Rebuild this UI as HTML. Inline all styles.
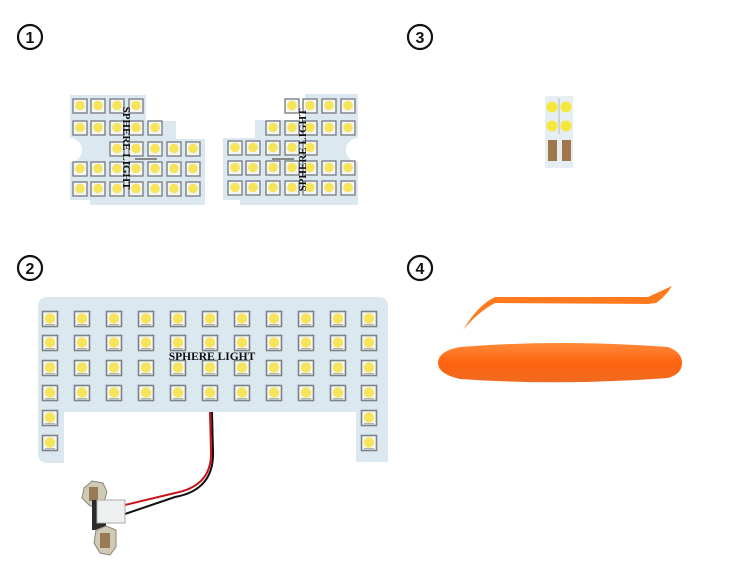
<!DOCTYPE html>
<html><head><meta charset="utf-8"><style>
html,body{margin:0;padding:0;background:#fff;width:730px;height:583px;overflow:hidden}
svg{display:block}
text{font-family:"Liberation Serif",serif}
text.num{font-family:"Liberation Sans",sans-serif}
</style></head><body>
<svg width="730" height="583" viewBox="0 0 730 583" xmlns="http://www.w3.org/2000/svg">
<defs>
<g id="led">
<rect x="-7.5" y="-7.5" width="15" height="15" fill="#f4f6f6" stroke="#7d8285" stroke-width="1.6"/>
<circle cx="0" cy="-0.5" r="5.2" fill="#f6e55a"/>
<rect x="-5" y="5" width="10" height="1.2" fill="#b0b4b6"/>
</g>
<g id="ledS">
<rect x="-7" y="-7" width="14" height="14" fill="#f4f6f6" stroke="#7d8285" stroke-width="1.4"/>
<circle cx="0" cy="-0.5" r="4.8" fill="#f6e55a"/>
</g>
<linearGradient id="org" x1="0" y1="0" x2="0" y2="1">
<stop offset="0" stop-color="#ff8a3a"/><stop offset="0.5" stop-color="#ff6410"/><stop offset="1" stop-color="#f06a20"/>
</linearGradient>
</defs>

<g fill="none" stroke="#111" stroke-width="2.2">
<circle cx="30" cy="37" r="12"/><circle cx="420" cy="37" r="12"/>
<circle cx="30" cy="268" r="12"/><circle cx="420" cy="268" r="12"/>
</g>
<g font-size="16" font-weight="bold" text-anchor="middle" fill="#111">
<text class="num" x="30" y="43" style="font-family:'Liberation Sans',sans-serif">1</text>
<text class="num" x="420" y="43" style="font-family:'Liberation Sans',sans-serif">3</text>
<text class="num" x="30" y="274" style="font-family:'Liberation Sans',sans-serif">2</text>
<text class="num" x="420" y="274" style="font-family:'Liberation Sans',sans-serif">4</text>
</g>

<path d="M70,95 L146,95 L146,121 L176,121 L176,139 L205,139 L205,205 L90,205 L90,200 L70,200 L70,162 A11,11 0 0 0 70,138 Z" fill="#dce8f0"/>
<g>
<use href="#ledS" x="80" y="106"/><use href="#ledS" x="98" y="106"/><use href="#ledS" x="117" y="106"/><use href="#ledS" x="136" y="106"/>
<use href="#ledS" x="80" y="128"/><use href="#ledS" x="98" y="128"/><use href="#ledS" x="117" y="128"/><use href="#ledS" x="136" y="128"/><use href="#ledS" x="155" y="128"/>
<use href="#ledS" x="117" y="149"/><use href="#ledS" x="136" y="149"/><use href="#ledS" x="155" y="149"/><use href="#ledS" x="174" y="149"/><use href="#ledS" x="193" y="149"/>
<use href="#ledS" x="80" y="169"/><use href="#ledS" x="98" y="169"/><use href="#ledS" x="117" y="169"/><use href="#ledS" x="136" y="169"/><use href="#ledS" x="155" y="169"/><use href="#ledS" x="174" y="169"/><use href="#ledS" x="193" y="169"/>
<use href="#ledS" x="80" y="189"/><use href="#ledS" x="98" y="189"/><use href="#ledS" x="117" y="189"/><use href="#ledS" x="136" y="189"/><use href="#ledS" x="155" y="189"/><use href="#ledS" x="174" y="189"/><use href="#ledS" x="193" y="189"/>
</g>
<rect x="135" y="158" width="22" height="2" fill="#888"/>
<text x="0" y="0" font-size="11" font-weight="bold" fill="#111" text-anchor="middle" transform="translate(123,148) rotate(90)">SPHERE LIGHT</text>

<path d="M305,94 L358,94 L358,138 A11,11 0 0 0 358,162 L358,205 L240,205 L240,200 L223,200 L223,138 L255,138 L255,120 L305,120 Z" fill="#dce8f0"/>
<g>
<use href="#ledS" x="292" y="106"/><use href="#ledS" x="310" y="106"/><use href="#ledS" x="329" y="106"/><use href="#ledS" x="348" y="106"/>
<use href="#ledS" x="273" y="128"/><use href="#ledS" x="292" y="128"/><use href="#ledS" x="310" y="128"/><use href="#ledS" x="329" y="128"/><use href="#ledS" x="348" y="128"/>
<use href="#ledS" x="235" y="148"/><use href="#ledS" x="253" y="148"/><use href="#ledS" x="273" y="148"/><use href="#ledS" x="292" y="148"/><use href="#ledS" x="310" y="148"/>
<use href="#ledS" x="235" y="168"/><use href="#ledS" x="253" y="168"/><use href="#ledS" x="273" y="168"/><use href="#ledS" x="292" y="168"/><use href="#ledS" x="310" y="168"/><use href="#ledS" x="329" y="168"/><use href="#ledS" x="348" y="168"/>
<use href="#ledS" x="235" y="188"/><use href="#ledS" x="253" y="188"/><use href="#ledS" x="273" y="188"/><use href="#ledS" x="292" y="188"/><use href="#ledS" x="310" y="188"/><use href="#ledS" x="329" y="188"/><use href="#ledS" x="348" y="188"/>
</g>
<rect x="272" y="158" width="22" height="2" fill="#888"/>
<text x="0" y="0" font-size="11" font-weight="bold" fill="#111" text-anchor="middle" transform="translate(306,150) rotate(-90)">SPHERE LIGHT</text>

<rect x="545" y="96" width="28" height="72" fill="#e6eef4"/>
<line x1="559" y1="98" x2="559" y2="134" stroke="#999" stroke-width="0.6"/>
<circle cx="552" cy="107" r="5.5" fill="#f6e83a"/><circle cx="566" cy="107" r="5.5" fill="#f6e83a"/>
<circle cx="552" cy="126" r="5.5" fill="#f6e83a"/><circle cx="566" cy="126" r="5.5" fill="#f6e83a"/>
<rect x="548" y="140" width="9" height="21" fill="#a0764c"/><rect x="562" y="140" width="9" height="21" fill="#a0764c"/>

<path d="M48,297 L378,297 Q388,297 388,307 L388,462 L356,462 L356,412 L64,412 L64,463 L48,463 Q38,463 38,453 L38,307 Q38,297 48,297 Z" fill="#dce8f0"/>
<g>
<use href="#led" x="50" y="319"/><use href="#led" x="82" y="319"/><use href="#led" x="114" y="319"/><use href="#led" x="146" y="319"/><use href="#led" x="178" y="319"/><use href="#led" x="210" y="319"/><use href="#led" x="242" y="319"/><use href="#led" x="274" y="319"/><use href="#led" x="306" y="319"/><use href="#led" x="338" y="319"/><use href="#led" x="369" y="319"/>
<use href="#led" x="50" y="343"/><use href="#led" x="82" y="343"/><use href="#led" x="114" y="343"/><use href="#led" x="146" y="343"/><use href="#led" x="178" y="343"/><use href="#led" x="210" y="343"/><use href="#led" x="242" y="343"/><use href="#led" x="274" y="343"/><use href="#led" x="306" y="343"/><use href="#led" x="338" y="343"/><use href="#led" x="369" y="343"/>
<use href="#led" x="50" y="368"/><use href="#led" x="82" y="368"/><use href="#led" x="114" y="368"/><use href="#led" x="146" y="368"/><use href="#led" x="178" y="368"/><use href="#led" x="210" y="368"/><use href="#led" x="242" y="368"/><use href="#led" x="274" y="368"/><use href="#led" x="306" y="368"/><use href="#led" x="338" y="368"/><use href="#led" x="369" y="368"/>
<use href="#led" x="50" y="393"/><use href="#led" x="82" y="393"/><use href="#led" x="114" y="393"/><use href="#led" x="146" y="393"/><use href="#led" x="178" y="393"/><use href="#led" x="210" y="393"/><use href="#led" x="242" y="393"/><use href="#led" x="274" y="393"/><use href="#led" x="306" y="393"/><use href="#led" x="338" y="393"/><use href="#led" x="369" y="393"/>
<use href="#led" x="50" y="418"/><use href="#led" x="369" y="418"/>
<use href="#led" x="50" y="443"/><use href="#led" x="369" y="443"/>
</g>
<text x="212" y="360" font-size="11.5" font-weight="bold" fill="#111" text-anchor="middle">SPHERE LIGHT</text>

<path d="M210,412 L211,452 Q212,486 175,493 L125,505" fill="none" stroke="#c8141a" stroke-width="2"/>
<path d="M212,412 L213,452 Q214,490 175,497 L125,514" fill="none" stroke="#111" stroke-width="2"/>
<path d="M84,488 L92,481 L103,483 L107,492 L103,505 L90,506 L82,498 Z" fill="#cfc9b8" stroke="#8c8676" stroke-width="1"/>
<rect x="89" y="487" width="9" height="14" fill="#9a7a52"/>
<rect x="92" y="500" width="14" height="30" fill="#2a2a2a"/>
<rect x="97" y="500" width="28" height="23" fill="#eef0f0" stroke="#aaa" stroke-width="1"/>
<path d="M96,530 L106,526 L116,530 L116,547 L110,555 L100,553 L94,543 Z" fill="#cfc9b8" stroke="#8c8676" stroke-width="1"/>
<rect x="100" y="533" width="10" height="15" fill="#9a7a52"/>

<path d="M463,330 Q478,305 495,297 L648,297 L672,286 Q666,296 656,303 L648,304 L495,303 Q478,312 463,330 Z" fill="#ff7a1e"/>
<path d="M460,347 Q560,339 668,347 Q682,352 682,363 Q682,374 668,378 Q560,386 460,379 Q438,374 438,363 Q438,351 460,347 Z" fill="url(#org)"/>
</svg>
</body></html>
